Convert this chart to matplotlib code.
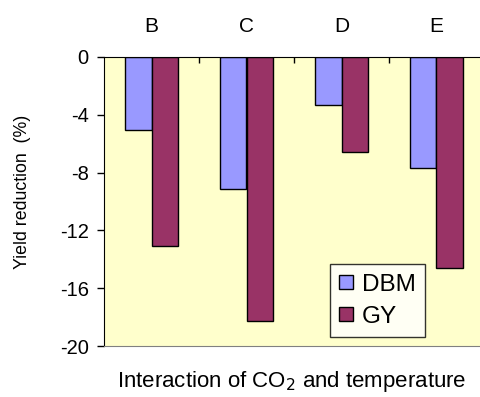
import numpy as np
import matplotlib
matplotlib.use("Agg")
from matplotlib import pyplot as plt

plt.rcParams['font.family'] = ['Liberation Sans', 'DejaVu Sans']

groups = ["B", "C", "D", "E"]
dbm = [-5.05, -9.15, -3.35, -7.7]
gy = [-13.1, -18.3, -6.55, -14.6]
yticks = [0, -4, -8, -12, -16, -20]

fig = plt.figure(figsize=(4.81, 3.97), dpi=100)
ax = fig.add_axes([104 / 481, 1 - 346 / 397, 380 / 481, 289 / 397])
ax.set_facecolor('#FFFFCC')

x = np.arange(len(groups))
w = 0.28
ax.bar(x - w / 2, dbm, w, color='#9999FF', edgecolor='black', linewidth=1, label='DBM')
ax.bar(x + w / 2, gy, w, color='#993366', edgecolor='black', linewidth=1, label='GY')

ax.set_xlim(-0.5, 3.5)
ax.set_ylim(-20, 0)
ax.set_yticks(yticks)
ax.set_yticklabels([str(v) for v in yticks], fontsize=14.5)
ax.tick_params(axis='y', direction='out', length=5, width=1, pad=6)

# category names on top, tick marks at the boundaries
ax.xaxis.tick_top()
ax.set_xticks(x)
ax.set_xticklabels(groups, fontsize=15)
ax.set_xticks(x[:-1] + 0.5, minor=True)
ax.tick_params(axis='x', which='major', length=0, pad=15)
ax.tick_params(axis='x', which='minor', direction='in', length=4, width=1)

ax.spines['top'].set_color('black')
ax.spines['left'].set_color('black')
ax.spines['bottom'].set_color('#808080')
ax.spines['right'].set_visible(False)

fig.text(22.5 / 481, 1 - 192 / 397, 'Yield reduction  (%)', fontsize=12.8,
         rotation=90, ha='center', va='center')
fig.text(292 / 481, 1 - 382 / 397, 'Interaction of CO$_2$ and temperature',
         fontsize=16, ha='center', va='center')

leg = ax.legend(loc='lower left', bbox_to_anchor=((330 - 104) / 380, (346 - 337) / 289),
                fontsize=17.5, frameon=True, fancybox=False, edgecolor='black',
                handlelength=0.55, handleheight=0.55, handletextpad=0.37,
                borderpad=0.38, labelspacing=0.42, borderaxespad=0)
leg.get_frame().set_linewidth(1)

plt.savefig('out.png', dpi=100)
